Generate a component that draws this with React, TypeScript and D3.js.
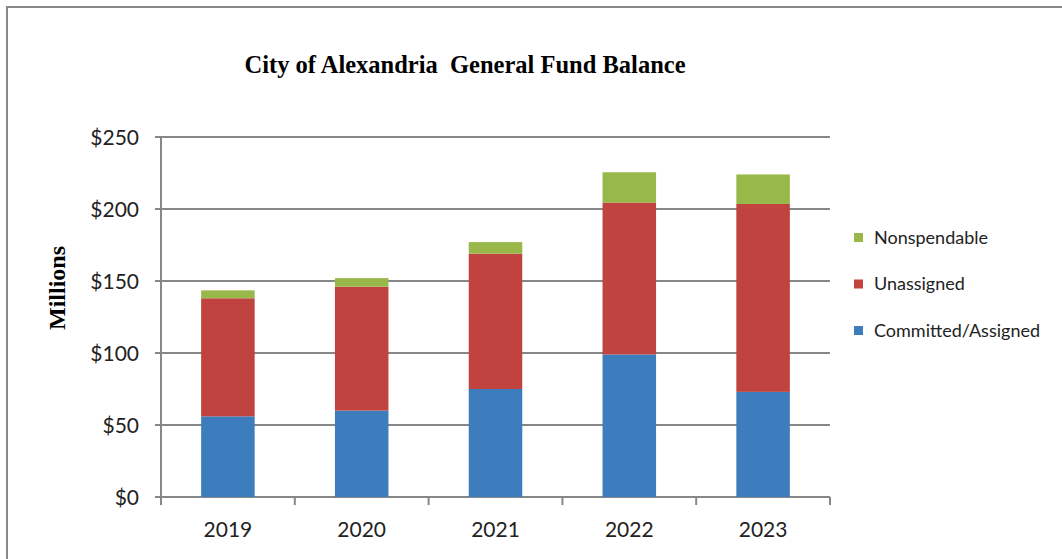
import React from "react";
import * as d3 from "d3";

const years = ["2019", "2020", "2021", "2022", "2023"];
const committed = [56, 60, 75, 99, 73];
const unassigned = [82, 86, 94, 105.5, 130.5];
const nonspendable = [5.5, 6, 8, 21, 20.5];
const yTicks = [0, 50, 100, 150, 200, 250];
const seriesNames = ["Committed/Assigned", "Unassigned", "Nonspendable"];
const seriesColors = ["#3D7CBD", "#C0433F", "#98B94A"];

export default function App() {
  const W = 1062, H = 559;
  const left = 161, right = 830, top = 137, bottom = 497;
  const x = d3.scaleBand<string>().domain(years).range([left, right]).paddingInner(0.6).paddingOuter(0.3);
  const y = d3.scaleLinear().domain([0, 250]).range([bottom, top]);
  const rows = years.map((yr, i) => ({ year: yr, c: committed[i], u: unassigned[i], n: nonspendable[i] }));
  const stack = d3.stack<any>().keys(["c", "u", "n"])(rows);
  const step = (right - left) / years.length;
  const grid = "#878787";
  const tickFont = "Lato, 'Open Sans', sans-serif";
  const serif = "'Liberation Serif', 'Times New Roman', serif";
  const legendItems = [2, 1, 0];
  return (
    <svg width={W} height={H} style={{ position: "absolute", left: 0, top: 0 }}>
      <rect x={0} y={0} width={W} height={H} fill="#fff" />
      <rect x={7} y={7} width={W + 20} height={H + 20} fill="none" stroke="#888" strokeWidth={2} />
      <text x={465} y={73} textAnchor="middle" fontFamily={serif} fontWeight="bold" fontSize={24.5} fill="#000" style={{ whiteSpace: "pre" }}>
        City of Alexandria  General Fund Balance
      </text>
      {yTicks.map((t) => (
        <g key={t}>
          <line x1={left - 6} x2={right} y1={y(t)} y2={y(t)} stroke={grid} strokeWidth={2} />
          <text x={139} y={y(t) + 7.5} textAnchor="end" fontFamily={tickFont} fontSize={21} fill="#222">
            ${t}
          </text>
        </g>
      ))}
      <line x1={left} x2={left} y1={top} y2={bottom + 8} stroke={grid} strokeWidth={2} />
      {d3.range(years.length + 1).map((i) => (
        <line key={i} x1={left + i * step} x2={left + i * step} y1={bottom} y2={bottom + 8} stroke={grid} strokeWidth={2} />
      ))}
      {stack.map((s, si) => (
        <g key={si} fill={seriesColors[si]}>
          {s.map((d: any, i: number) => (
            <rect key={i} x={x(years[i])} width={x.bandwidth()} y={y(d[1])} height={y(d[0]) - y(d[1])} />
          ))}
        </g>
      ))}
      {years.map((yr) => (
        <text key={yr} x={(x(yr) as number) + x.bandwidth() / 2} y={537} textAnchor="middle" fontFamily={tickFont} fontSize={21} fill="#222">
          {yr}
        </text>
      ))}
      <text transform="translate(65,288) rotate(-90)" textAnchor="middle" fontFamily={serif} fontWeight="bold" fontSize={24} fill="#000">
        Millions
      </text>
      {legendItems.map((si, k) => (
        <g key={si} transform={`translate(854,${233 + k * 46.5})`}>
          <rect x={0} y={0} width={9} height={9} fill={seriesColors[si]} />
          <text x={20} y={10.5} fontFamily={tickFont} fontSize={18} fill="#222">
            {seriesNames[si]}
          </text>
        </g>
      ))}
    </svg>
  );
}
